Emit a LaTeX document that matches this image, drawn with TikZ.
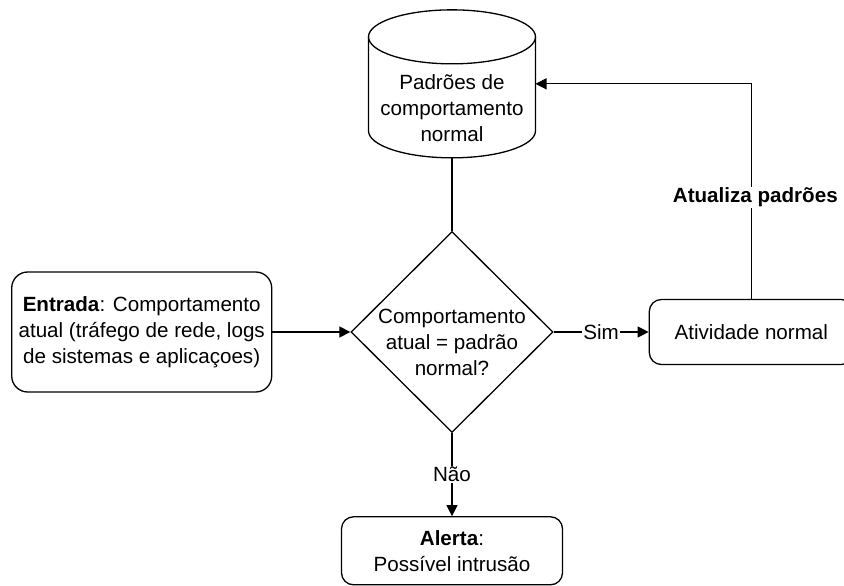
\documentclass[tikz,border=0pt]{standalone}
\usepackage{fontspec}
\setmainfont{Liberation Sans}
\usetikzlibrary{positioning,shapes.geometric,arrows.meta}

\begin{document}
\begin{tikzpicture}[x=1pt, y=1pt,
    every node/.style={font=\fontsize{20.6}{26}\selectfont},
    box/.style={draw, rectangle, rounded corners=12pt, align=center, line width=1.3pt},
    decision/.style={draw, diamond, aspect=1, inner sep=0pt, line width=1.3pt,
                     minimum width=202pt, minimum height=201pt},
    store/.style={rectangle, outer sep=0pt, minimum width=167pt, minimum height=148pt},
    link/.style={line width=1.3pt},
    arrow/.style={link, -{Triangle[length=11pt,width=11pt]}},
    lbl/.style={fill=white, inner sep=1pt}]
\useasboundingbox (0,0) rectangle (844,-586);

\node[decision, label={[align=center, yshift=-10pt]center:Comportamento\\atual = padrão\\normal?}] (dec) at (452,-332) {};
\node[store, above=73pt of dec, label={[align=center, yshift=-24pt]center:Padrões de\\comportamento\\normal}] (db) {};
\node[box, rounded corners=16pt, left=78pt of dec, minimum width=260pt, minimum height=120pt] (entrada)
      {\textbf{Entrada}: Comportamento\\atual (tráfego de rede, logs\\de sistemas e aplicaçoes)};
\node[box, right=95pt of dec, minimum width=204pt, minimum height=65pt] (ativ) {Atividade normal};
\node[box, below=83pt of dec, minimum width=221pt, minimum height=68pt] (alerta)
      {\textbf{Alerta}:\\Possível intrusão};

% cylinder
\draw[link] ([yshift=-27pt]db.north west) arc[start angle=180, end angle=-180, x radius=83.5, y radius=27];
\draw[link] ([yshift=-27pt]db.north west) -- ([yshift=27pt]db.south west)
      arc[start angle=180, end angle=360, x radius=83.5, y radius=27] -- ([yshift=-27pt]db.north east);

\draw[link] (db.south) -- (dec.north);
\draw[arrow] (entrada) -- (dec);
\draw[arrow] (dec.east) -- node[lbl] {Sim} (ativ.west);
\draw[arrow] (dec.south) -- node[lbl] {Não} (alerta.north);
\draw[arrow] (ativ.north) |- node[lbl, pos=0.236, xshift=4pt] {\textbf{Atualiza padrões}} (db.east);
\end{tikzpicture}
\end{document}
